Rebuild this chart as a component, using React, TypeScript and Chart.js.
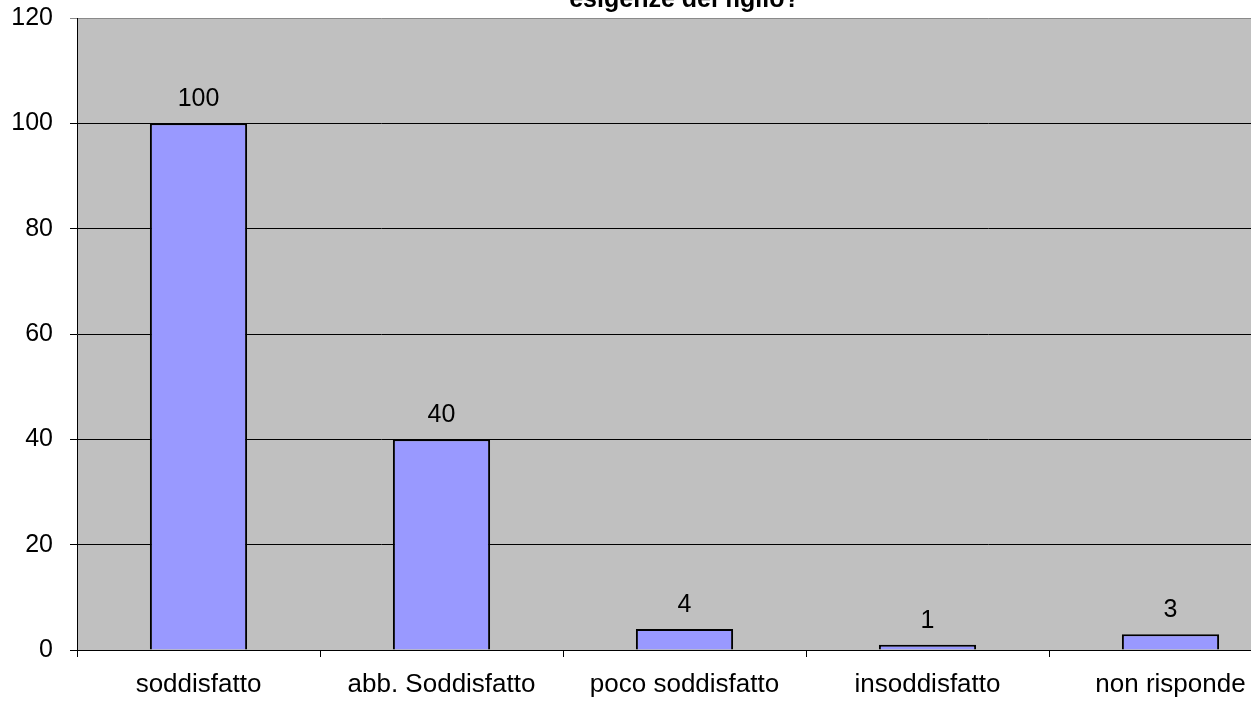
import React, { useEffect, useRef } from "react";
import { Chart, registerables } from "chart.js";

Chart.register(...registerables);

const categories = ["soddisfatto", "abb. Soddisfatto", "poco soddisfatto", "insoddisfatto", "non risponde"];
const values = [100, 40, 4, 1, 3];
const yTicks = [0, 20, 40, 60, 80, 100, 120];
const titleText = "esigenze del figlio?";

const FONT = "'Liberation Sans', Arial, sans-serif";

export default function App() {
  const ref = useRef<HTMLCanvasElement | null>(null);

  useEffect(() => {
    if (!ref.current) return;
    document.body.style.margin = "0";
    document.body.style.overflow = "hidden";

    const bgPlugin = {
      id: "plotBg",
      beforeDraw(chart: any) {
        const { ctx, chartArea } = chart;
        ctx.save();
        ctx.fillStyle = "#C0C0C0";
        ctx.fillRect(chartArea.left, chartArea.top, chartArea.right - chartArea.left, chartArea.bottom - chartArea.top);
        ctx.restore();
      },
    };

    const labelPlugin = {
      id: "valueLabels",
      afterDatasetsDraw(chart: any) {
        const { ctx } = chart;
        const meta = chart.getDatasetMeta(0);
        ctx.save();
        ctx.fillStyle = "#000";
        ctx.font = `25px ${FONT}`;
        ctx.textAlign = "center";
        ctx.textBaseline = "middle";
        meta.data.forEach((bar: any, i: number) => {
          ctx.fillText(String(values[i]), bar.x, bar.y - 24);
        });
        // title (partly outside the canvas top)
        ctx.font = `bold 25px ${FONT}`;
        ctx.textBaseline = "alphabetic";
        const ca = chart.chartArea;
        ctx.fillText(titleText, (ca.left + ca.right) / 2, 7);
        ctx.restore();
      },
    };

    const chart = new Chart(ref.current, {
      type: "bar",
      data: {
        labels: categories,
        datasets: [
          {
            data: values,
            backgroundColor: "#9999FF",
            borderColor: "#000000",
            borderWidth: 2,
            borderSkipped: "start",
            categoryPercentage: 1,
            barPercentage: 0.4,
          },
        ],
      },
      options: {
        animation: false,
        responsive: false,
        maintainAspectRatio: false,
        layout: { padding: { top: 18, right: 8, left: 0, bottom: 0 } },
        plugins: {
          legend: { display: false },
          title: { display: false },
          tooltip: { enabled: false },
        },
        scales: {
          x: {
            afterFit(scale: any) {
              scale.height = 61;
              scale.paddingLeft = 0;
              scale.paddingRight = 0;
            },
            grid: {
              display: true,
              drawOnChartArea: false,
              drawTicks: true,
              tickLength: 7,
              color: "#000",
              offset: true,
            },
            border: { display: true, color: "#000", width: 1 },
            ticks: {
              color: "#000",
              font: { family: FONT, size: 26 },
              padding: 12,
              maxRotation: 0,
              autoSkip: false,
            },
          },
          y: {
            min: 0,
            max: 120,
            afterFit(scale: any) {
              scale.width = 77;
              scale.paddingTop = 0;
              scale.paddingBottom = 0;
            },
            afterBuildTicks(scale: any) {
              scale.ticks = yTicks.map((v) => ({ value: v }));
            },
            grid: {
              color: (c: any) => (c.tick && c.tick.value === 120 ? "#8a8a8a" : "#000"),
              lineWidth: 1,
              tickLength: 7,
              drawTicks: true,
            },
            border: { display: true, color: "#000", width: 1 },
            ticks: {
              color: "#000",
              font: { family: FONT, size: 25 },
              padding: 17,
            },
          },
        },
      },
      plugins: [bgPlugin, labelPlugin],
    });

    return () => chart.destroy();
  }, []);

  return (
    <div style={{ position: "fixed", left: 0, top: 0, width: 1251, height: 711, overflow: "hidden", background: "#fff" }}>
      <canvas ref={ref} width={1300} height={711} style={{ display: "block", width: 1300, height: 711 }} />
    </div>
  );
}
